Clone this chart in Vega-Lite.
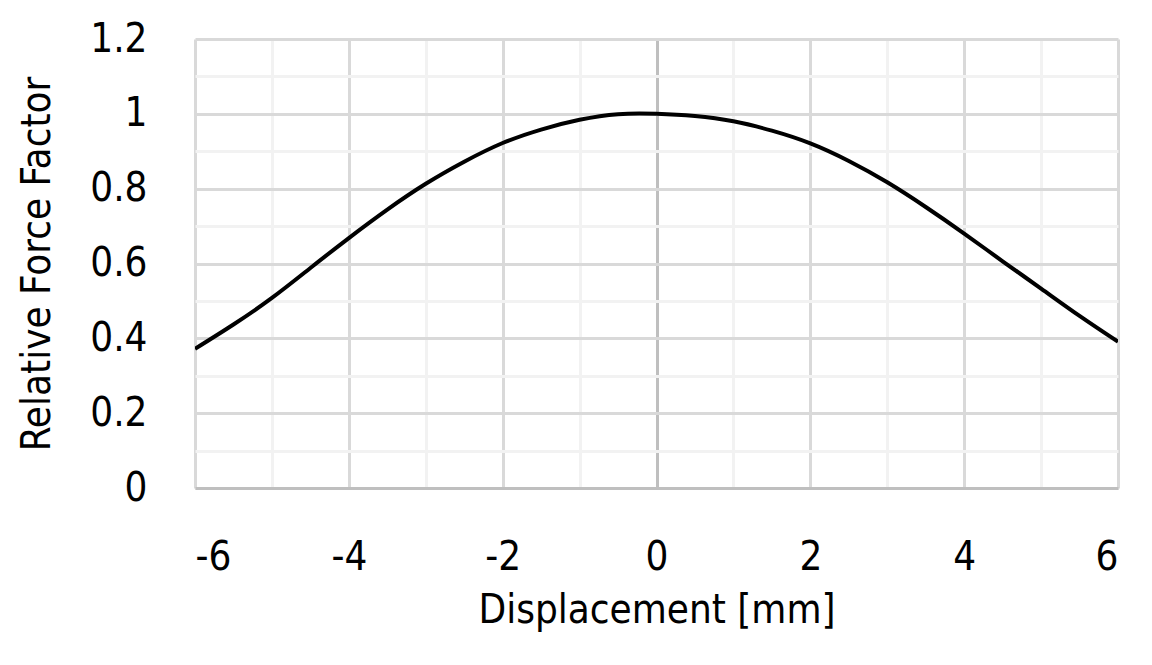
{
  "$schema": "https://vega.github.io/schema/vega-lite/v6.json",
  "autosize": "none",
  "width": 923,
  "height": 449,
  "padding": {"left": 195, "top": 39, "right": 34, "bottom": 177},
  "background": "white",
  "config": {
    "view": {"stroke": null},
    "font": "DejaVu Sans Condensed"
  },
  "data": {
    "values": [
      {"x": -6, "y": 0.372},
      {"x": -5.5, "y": 0.437},
      {"x": -5, "y": 0.508},
      {"x": -4.5, "y": 0.588},
      {"x": -4, "y": 0.668},
      {"x": -3.5, "y": 0.744},
      {"x": -3, "y": 0.813},
      {"x": -2.5, "y": 0.872},
      {"x": -2, "y": 0.922},
      {"x": -1.5, "y": 0.958},
      {"x": -1, "y": 0.984},
      {"x": -0.5, "y": 0.999},
      {"x": 0, "y": 1.0},
      {"x": 0.5, "y": 0.994},
      {"x": 1, "y": 0.98},
      {"x": 1.5, "y": 0.955},
      {"x": 2, "y": 0.921},
      {"x": 2.5, "y": 0.874},
      {"x": 3, "y": 0.817},
      {"x": 3.5, "y": 0.751},
      {"x": 4, "y": 0.68},
      {"x": 4.5, "y": 0.606},
      {"x": 5, "y": 0.533},
      {"x": 5.5, "y": 0.46},
      {"x": 6, "y": 0.391}
    ]
  },
  "mark": {"type": "line", "color": "black", "strokeWidth": 4, "interpolate": "natural", "clip": true},
  "encoding": {
    "x": {
      "field": "x",
      "type": "quantitative",
      "scale": {"domain": [-6, 6], "nice": false, "zero": false},
      "axis": {
        "title": "Displacement [mm]",
        "values": [-6, -5, -4, -3, -2, -1, 0, 1, 2, 3, 4, 5, 6],
        "labelExpr": "datum.value % 2 === 0 ? '' + datum.value : ''",
        "ticks": false,
        "grid": true,
        "gridWidth": 3,
        "gridColor": {"condition": [{"test": "datum.value === 0", "value": "#bfbfbf"}, {"test": "datum.value % 2 === 0", "value": "#d9d9d9"}], "value": "#f2f2f2"},
        "domain": true,
        "domainColor": "#bfbfbf",
        "domainWidth": 3,
        "labelFontSize": 40,
        "labelColor": "black",
        "labelPadding": 49,
        "labelFont": "DejaVu Sans Condensed",
        "titleFont": "DejaVu Sans Condensed",
        "titleFontSize": 40,
        "titleFontWeight": "normal",
        "titleColor": "black",
        "titlePadding": 13
      }
    },
    "y": {
      "field": "y",
      "type": "quantitative",
      "scale": {"domain": [0, 1.2], "nice": false},
      "axis": {
        "title": "Relative Force Factor",
        "values": [0, 0.1, 0.2, 0.3, 0.4, 0.5, 0.6, 0.7, 0.8, 0.9, 1.0, 1.1, 1.2],
        "labelExpr": "round(datum.value * 10) % 2 === 0 ? format(datum.value, '~g') : ''",
        "ticks": false,
        "grid": true,
        "gridWidth": 3,
        "gridColor": {"expr": "round(datum.value * 10) % 2 === 0 ? '#d9d9d9' : '#f2f2f2'"},
        "domain": false,
        "labelFontSize": 40,
        "labelColor": "black",
        "labelPadding": 48,
        "labelFont": "DejaVu Sans Condensed",
        "titleFont": "DejaVu Sans Condensed",
        "titleFontSize": 40,
        "titleFontWeight": "normal",
        "titleColor": "black",
        "titlePadding": 32
      }
    }
  }
}
